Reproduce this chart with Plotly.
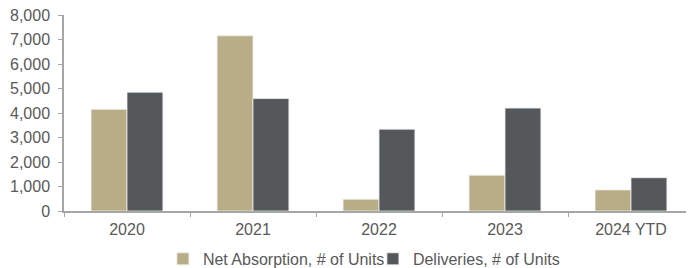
import plotly.graph_objects as go

categories = ["2020", "2021", "2022", "2023", "2024 YTD"]
net_absorption = [4150, 7150, 480, 1460, 860]
deliveries = [4850, 4590, 3340, 4200, 1360]
y_ticks = [0, 1000, 2000, 3000, 4000, 5000, 6000, 7000, 8000]

TAN = "#B9AD87"
DARK = "#54585A"
GRAY = "#A6A6A6"
TXT = "#595959"

# page body has an 8px margin, so the figure is sized/offset to compensate
fig = go.Figure()
fig.add_trace(go.Bar(x=categories, y=net_absorption, name="Net Absorption, # of Units",
                     marker=dict(color=TAN, line=dict(color="#EEEEEE", width=0.8))))
fig.add_trace(go.Bar(x=categories, y=deliveries, name="Deliveries, # of Units",
                     marker=dict(color=DARK, line=dict(color="#EEEEEE", width=0.8))))

fig.update_layout(
    width=686, height=260,
    margin=dict(l=56, r=0, t=7, b=57, autoexpand=False),
    paper_bgcolor="white", plot_bgcolor="white",
    barmode="group", bargap=0.43, bargroupgap=0,
    font=dict(family="Liberation Sans, Arial, sans-serif", size=16, color=TXT),
    showlegend=True,
    legend=dict(orientation="h", xref="paper", x=0.157, xanchor="left",
                yref="container", y=0.035, yanchor="middle",
                font=dict(size=16, color=TXT), itemwidth=30, tracegroupgap=0,
                entrywidth=165, entrywidthmode="pixels",
                bgcolor="rgba(0,0,0,0)"),
    xaxis=dict(showline=True, linecolor=GRAY, linewidth=1.5, ticks="outside",
               tickson="boundaries", ticklen=4, tickcolor=GRAY, showgrid=False,
               automargin=False, ticklabelstandoff=3, ticklabeloverflow="allow",
               tickfont=dict(size=16, color=TXT)),
    yaxis=dict(range=[0, 8000], tickvals=y_ticks, tickformat=",d", showline=True,
               linecolor=GRAY, linewidth=1.5, ticks="outside", ticklen=4, tickcolor=GRAY,
               showgrid=False, zeroline=False, automargin=False, ticklabelstandoff=5,
               ticklabeloverflow="allow", tickfont=dict(size=16, color=TXT)),
)

fig.write_html("out.html")
